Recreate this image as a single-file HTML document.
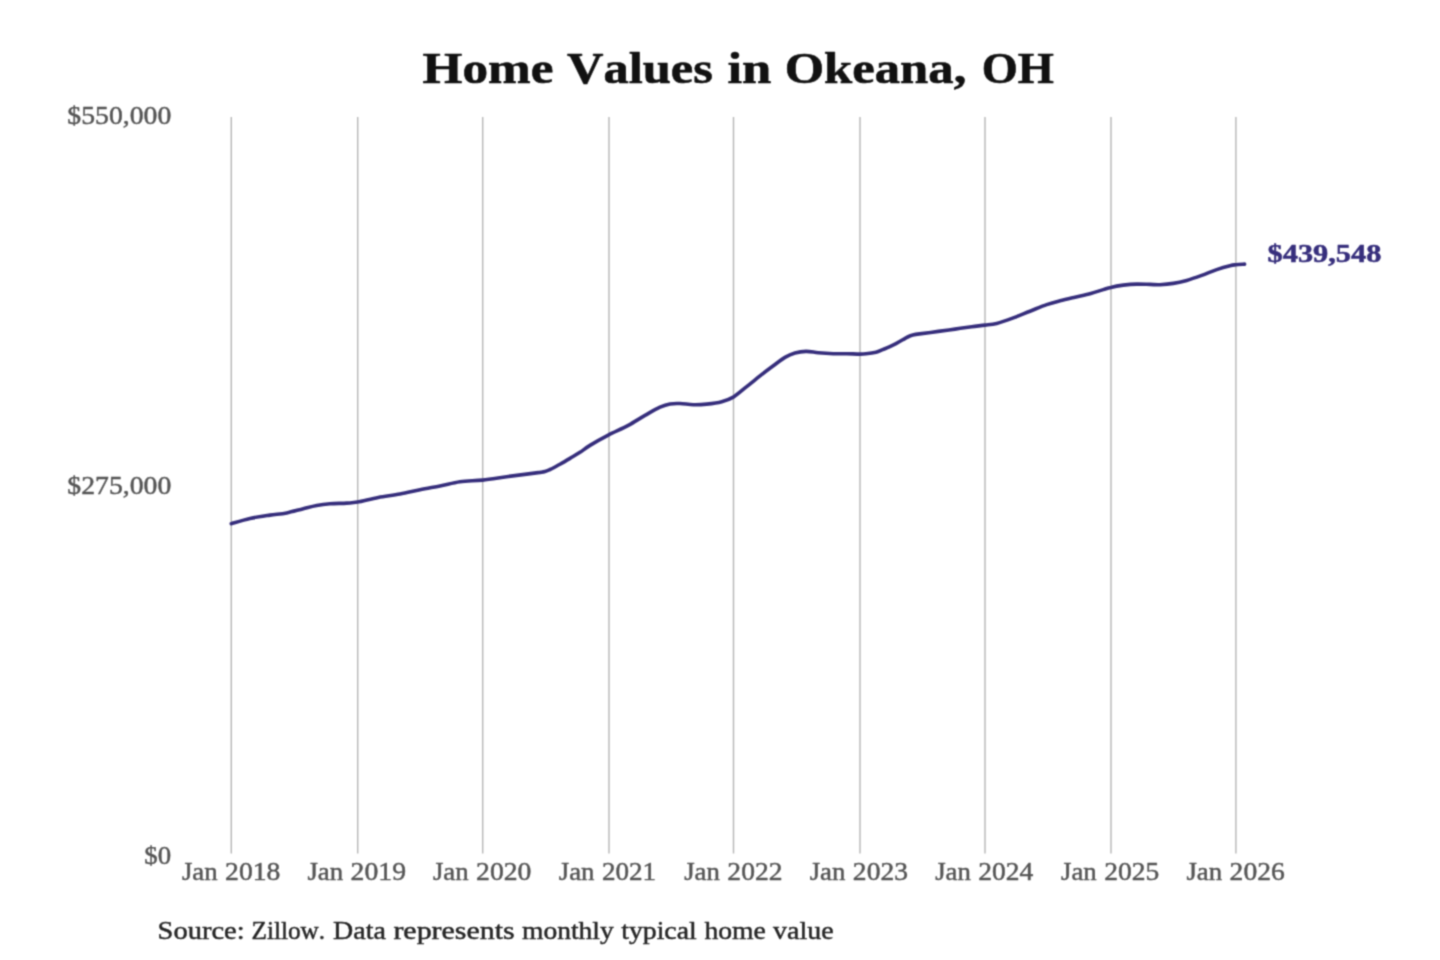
<!DOCTYPE html>
<html lang="en">
<head>
<meta charset="utf-8">
<title>Home Values in Okeana, OH</title>
<style>
html,body{margin:0;padding:0;background:#ffffff;}
body{width:1440px;height:960px;overflow:hidden;font-family:"Liberation Serif",serif;}
#chart{position:absolute;left:0;top:0;width:1440px;height:960px;}
svg{display:block;position:absolute;left:0;top:0;}
text{font-family:"Liberation Serif",serif;font-kerning:none;white-space:pre;stroke-linejoin:round;}
.title{font-weight:bold;font-size:44.4px;fill:#111111;stroke:#111111;stroke-width:0.6px;}
.grid line{stroke:#b6b6b6;stroke-width:1.4;}
.xl{font-size:25px;fill:#555555;stroke:#555555;stroke-width:0.45px;}
.yl{font-size:25px;fill:#555555;stroke:#555555;stroke-width:0.45px;}
.end{font-weight:bold;font-size:25px;fill:#362e7c;stroke:#362e7c;stroke-width:0.5px;}
.foot{font-size:25px;fill:#262626;stroke:#262626;stroke-width:0.45px;}
.series{fill:none;stroke:#362e7c;stroke-width:3.6;stroke-linecap:round;stroke-linejoin:round;}
</style>
</head>
<body>
<div id="chart">
<svg width="1440" height="960" viewBox="0 0 1440 960">
<defs>
<filter id="soft" x="0" y="0" width="1440" height="960" filterUnits="userSpaceOnUse" color-interpolation-filters="sRGB">
<feConvolveMatrix order="3" kernelMatrix="0.0439 0.1217 0.0439 0.1217 0.3377 0.1217 0.0439 0.1217 0.0439" edgeMode="duplicate" preserveAlpha="true"/>
</filter>
</defs>
<g filter="url(#soft)">
<rect x="0" y="0" width="1440" height="960" fill="#ffffff"/>
<g class="title-g"><text class="title" y="83.00"><tspan x="422.63" textLength="130.75" lengthAdjust="spacingAndGlyphs">Home</tspan> <tspan x="567.00" textLength="145.92" lengthAdjust="spacingAndGlyphs">Values</tspan> <tspan x="727.46" textLength="43.95" lengthAdjust="spacingAndGlyphs">in</tspan> <tspan x="784.66" textLength="181.69" lengthAdjust="spacingAndGlyphs">Okeana,</tspan> <tspan x="981.65" textLength="72.20" lengthAdjust="spacingAndGlyphs">OH</tspan></text></g>
<g class="grid"><line x1="231.3" y1="117.0" x2="231.3" y2="853.6"/><line x1="357.7" y1="117.0" x2="357.7" y2="853.6"/><line x1="482.7" y1="117.0" x2="482.7" y2="853.6"/><line x1="609.0" y1="117.0" x2="609.0" y2="853.6"/><line x1="733.5" y1="117.0" x2="733.5" y2="853.6"/><line x1="860.0" y1="117.0" x2="860.0" y2="853.6"/><line x1="985.0" y1="117.0" x2="985.0" y2="853.6"/><line x1="1111.0" y1="117.0" x2="1111.0" y2="853.6"/><line x1="1235.9" y1="117.0" x2="1235.9" y2="853.6"/></g>
<g class="y-axis">
<text class="yl" y="124.00"><tspan x="67.37" textLength="103.89" lengthAdjust="spacingAndGlyphs">$550,000</tspan></text>
<text class="yl" y="493.90"><tspan x="67.37" textLength="103.89" lengthAdjust="spacingAndGlyphs">$275,000</tspan></text>
<text class="yl" y="864.00"><tspan x="144.38" textLength="26.84" lengthAdjust="spacingAndGlyphs">$0</tspan></text>
</g>
<g class="x-axis">
<text class="xl" y="880.00"><tspan x="181.95" textLength="35.71" lengthAdjust="spacingAndGlyphs">Jan</tspan> <tspan x="225.13" textLength="55.28" lengthAdjust="spacingAndGlyphs">2018</tspan></text>
<text class="xl" y="880.00"><tspan x="307.43" textLength="35.71" lengthAdjust="spacingAndGlyphs">Jan</tspan> <tspan x="350.61" textLength="55.36" lengthAdjust="spacingAndGlyphs">2019</tspan></text>
<text class="xl" y="880.00"><tspan x="432.90" textLength="35.71" lengthAdjust="spacingAndGlyphs">Jan</tspan> <tspan x="476.08" textLength="55.30" lengthAdjust="spacingAndGlyphs">2020</tspan></text>
<text class="xl" y="880.00"><tspan x="558.72" textLength="35.71" lengthAdjust="spacingAndGlyphs">Jan</tspan> <tspan x="601.93" textLength="54.19" lengthAdjust="spacingAndGlyphs">2021</tspan></text>
<text class="xl" y="880.00"><tspan x="684.20" textLength="35.71" lengthAdjust="spacingAndGlyphs">Jan</tspan> <tspan x="727.39" textLength="55.06" lengthAdjust="spacingAndGlyphs">2022</tspan></text>
<text class="xl" y="880.00"><tspan x="809.67" textLength="35.71" lengthAdjust="spacingAndGlyphs">Jan</tspan> <tspan x="852.86" textLength="55.15" lengthAdjust="spacingAndGlyphs">2023</tspan></text>
<text class="xl" y="880.00"><tspan x="935.15" textLength="35.71" lengthAdjust="spacingAndGlyphs">Jan</tspan> <tspan x="978.34" textLength="55.03" lengthAdjust="spacingAndGlyphs">2024</tspan></text>
<text class="xl" y="880.00"><tspan x="1060.97" textLength="35.71" lengthAdjust="spacingAndGlyphs">Jan</tspan> <tspan x="1104.16" textLength="55.08" lengthAdjust="spacingAndGlyphs">2025</tspan></text>
<text class="xl" y="880.00"><tspan x="1186.45" textLength="35.71" lengthAdjust="spacingAndGlyphs">Jan</tspan> <tspan x="1229.64" textLength="55.14" lengthAdjust="spacingAndGlyphs">2026</tspan></text>
</g>
<path class="series" d="M231.3 523.7C234.4 522.8 243.6 519.8 250.0 518.4C256.4 517.0 263.9 516.0 270.0 515.1C276.1 514.2 281.1 514.0 286.7 512.9C292.2 511.8 298.3 509.9 303.3 508.7C308.3 507.4 312.2 506.2 316.7 505.4C321.1 504.6 325.0 504.1 330.0 503.7C335.0 503.3 342.1 503.4 346.7 503.1C351.3 502.8 352.2 503.1 357.5 502.1C362.8 501.2 371.2 498.7 378.3 497.4C385.4 496.1 393.1 495.4 400.0 494.1C406.9 492.8 413.3 491.1 420.0 489.7C426.7 488.3 433.3 487.3 440.0 486.0C446.7 484.7 452.9 482.7 460.0 481.7C467.1 480.7 474.7 480.9 482.5 480.1C490.3 479.3 499.3 477.7 506.7 476.7C514.1 475.7 521.2 474.8 526.7 474.1C532.2 473.4 537.0 472.8 540.0 472.4C543.0 471.9 543.3 471.9 545.0 471.4C546.7 470.9 548.3 470.2 550.0 469.5C551.7 468.8 553.3 467.9 555.0 467.0C556.7 466.1 557.5 465.7 560.0 464.3C562.5 462.9 566.7 460.4 570.0 458.4C573.3 456.4 576.7 454.5 580.0 452.3C583.3 450.1 585.3 448.3 590.0 445.4C594.7 442.5 601.9 438.4 608.3 435.1C614.7 431.8 622.2 428.7 628.3 425.4C634.4 422.1 639.7 418.4 645.0 415.4C650.3 412.4 655.8 409.1 660.0 407.2C664.2 405.3 666.7 404.5 670.0 403.9C673.3 403.3 676.1 403.4 680.0 403.5C683.9 403.6 688.8 404.6 693.3 404.7C697.8 404.8 702.0 404.6 706.7 404.1C711.4 403.6 717.3 402.9 721.7 401.7C726.1 400.5 729.1 399.6 733.3 397.1C737.5 394.6 742.2 390.1 746.7 386.6C751.2 383.1 755.6 379.4 760.0 375.9C764.4 372.4 769.1 368.9 773.3 365.8C777.5 362.7 781.4 359.5 785.0 357.4C788.6 355.3 791.5 354.1 795.0 353.1C798.5 352.1 802.1 351.5 806.0 351.4C809.9 351.3 813.8 352.3 818.3 352.7C822.8 353.1 828.6 353.5 833.3 353.7C838.0 353.9 842.2 353.6 846.7 353.7C851.2 353.8 856.8 354.1 860.0 354.1C863.2 354.1 863.3 354.1 866.0 353.8C868.7 353.5 873.2 352.9 876.0 352.2C878.8 351.5 880.5 350.5 882.7 349.6C884.9 348.7 887.1 347.9 889.3 346.9C891.5 345.9 893.8 344.8 896.0 343.6C898.2 342.4 900.8 340.9 902.7 339.8C904.7 338.7 906.0 337.8 907.7 337.0C909.4 336.2 910.8 335.6 912.8 335.1C914.8 334.6 915.2 334.5 919.5 333.9C923.8 333.3 932.4 332.2 938.3 331.4C944.2 330.6 949.4 329.9 955.0 329.1C960.6 328.3 966.7 327.4 971.7 326.7C976.7 326.0 980.8 325.7 985.0 325.1C989.2 324.6 992.0 324.6 996.7 323.4C1001.4 322.2 1007.8 319.9 1013.3 317.9C1018.8 315.9 1024.4 313.4 1030.0 311.2C1035.6 309.0 1041.7 306.3 1046.7 304.6C1051.7 302.9 1055.3 302.0 1060.0 300.8C1064.7 299.6 1069.9 298.4 1075.0 297.2C1080.1 296.0 1086.1 294.8 1090.8 293.5C1095.5 292.2 1100.0 290.6 1103.3 289.6C1106.6 288.6 1107.5 288.1 1110.8 287.4C1114.1 286.6 1119.0 285.7 1123.3 285.1C1127.6 284.6 1132.2 284.2 1136.7 284.1C1141.2 284.0 1146.1 284.3 1150.0 284.4C1153.9 284.5 1156.1 284.9 1160.0 284.7C1163.9 284.5 1168.8 284.1 1173.3 283.4C1177.8 282.7 1182.0 281.7 1186.7 280.4C1191.4 279.1 1196.7 277.2 1201.7 275.4C1206.7 273.6 1212.0 271.2 1216.7 269.6C1221.4 268.0 1226.8 266.5 1230.0 265.7C1233.2 264.9 1233.4 265.0 1235.8 264.7C1238.2 264.4 1243.1 264.2 1244.6 264.1"/>
<g class="end-g"><text class="end" y="261.60"><tspan x="1267.62" textLength="113.76" lengthAdjust="spacingAndGlyphs">$439,548</tspan></text></g>
<g class="foot-g"><text class="foot" y="938.50"><tspan x="157.59" textLength="87.00" lengthAdjust="spacingAndGlyphs">Source:</tspan> <tspan x="251.47" textLength="73.66" lengthAdjust="spacingAndGlyphs">Zillow.</tspan> <tspan x="333.08" textLength="52.78" lengthAdjust="spacingAndGlyphs">Data</tspan> <tspan x="393.41" textLength="121.18" lengthAdjust="spacingAndGlyphs">represents</tspan> <tspan x="521.97" textLength="91.84" lengthAdjust="spacingAndGlyphs">monthly</tspan> <tspan x="621.24" textLength="75.44" lengthAdjust="spacingAndGlyphs">typical</tspan> <tspan x="704.41" textLength="61.47" lengthAdjust="spacingAndGlyphs">home</tspan> <tspan x="773.06" textLength="60.54" lengthAdjust="spacingAndGlyphs">value</tspan></text></g>
</g>
</svg>
</div>
</body>
</html>
